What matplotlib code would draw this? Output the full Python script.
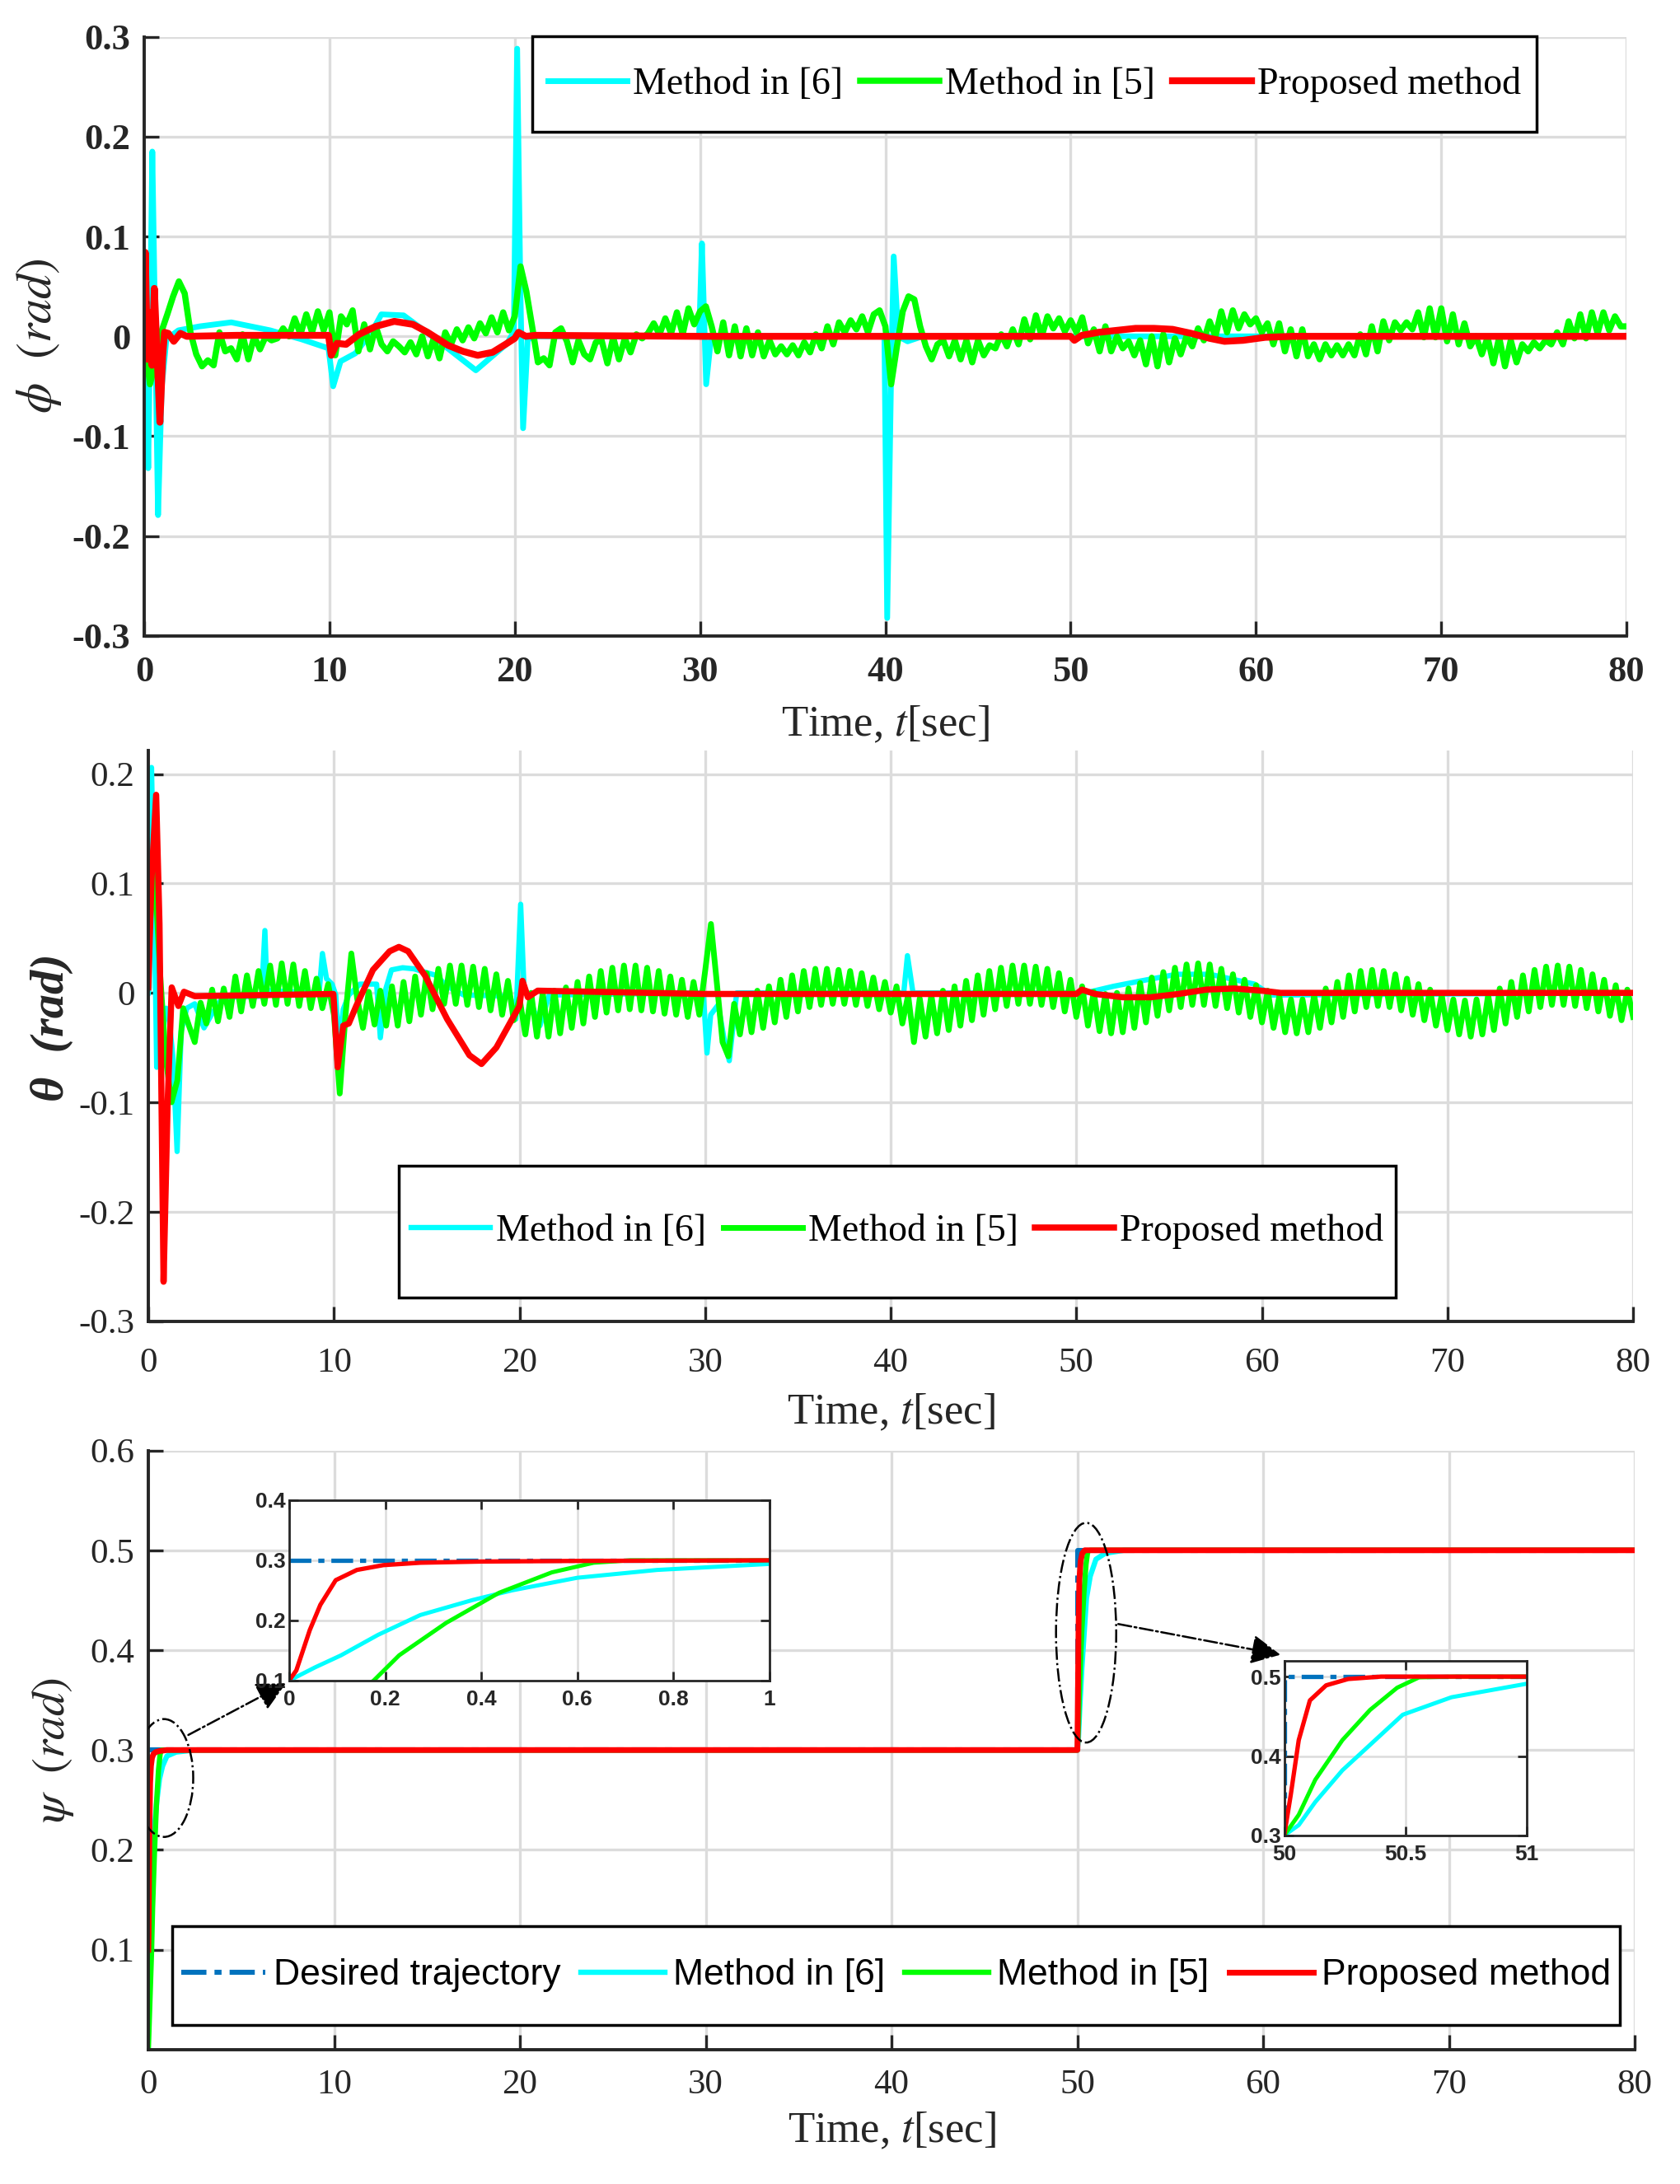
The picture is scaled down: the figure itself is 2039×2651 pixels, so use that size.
import numpy as np
import matplotlib
matplotlib.use('Agg')
import matplotlib.pyplot as plt
from matplotlib.patches import Ellipse, Rectangle

plt.rcParams['font.family'] = ['Liberation Serif', 'DejaVu Serif']
plt.rcParams['mathtext.fontset'] = 'stix'

# colours (MATLAB style)
c_m6 = '#00FFFF'
c_m5 = '#00FF00'
c_pr = '#FF0000'
c_des = '#0072BD'
c_grid = '#DCDCDC'
c_ax = '#262626'

# ---------------- data ----------------
x_ticks = [0, 10, 20, 30, 40, 50, 60, 70, 80]
x_ticklabels = ['0', '10', '20', '30', '40', '50', '60', '70', '80']
legend_labels = ['Method in [6]', 'Method in [5]', 'Proposed method']
legend_labels_psi = ['Desired trajectory', 'Method in [6]', 'Method in [5]', 'Proposed method']

# green curves (method in [5]) are read at every half period of their ripple
green_step = 0.3125
green_t = np.arange(257) * green_step

# phi
phi_yticks = [-0.3, -0.2, -0.1, 0, 0.1, 0.2, 0.3]
phi_yticklabels = ['-0.3', '-0.2', '-0.1', '0', '0.1', '0.2', '0.3']
phi_m6_t = [0, 0.1, 0.22, 0.33, 0.44, 0.6, 0.75, 0.95, 1.2, 1.85, 3, 4.7, 6.8, 8.5, 9.95, 10.2, 10.6, 11.4,
            12.3, 12.8, 14.0, 15.9, 17.9, 19.6, 19.95, 20.13, 20.3, 20.45, 20.7, 21.2, 29.95, 30.1, 30.33,
            30.6, 39.95, 40.1, 40.3, 40.45, 40.7, 41.2, 42, 80]
phi_m6 = [0.024, 0.000, -0.132, 0.020, 0.185, 0.000, -0.179, -0.050, -0.003, 0.006, 0.010, 0.014, 0.006,
          -0.003, -0.012, -0.050, -0.025, -0.017, 0.005, 0.022, 0.021, -0.005, -0.034, -0.007, 0.005, 0.288,
          0.050, -0.092, -0.003, 0.000, 0.000, 0.093, -0.048, 0.000, 0.000, -0.282, -0.050, 0.080, 0.000,
          -0.005, 0.000, 0.000]
phi_m5 = [
    0.000, -0.048, -0.025, 0.005, 0.022, 0.040, 0.055, 0.043, 0.004, -0.018, -0.030, -0.024, -0.029, 0.004, -0.015, -0.012,
    -0.023, 0.002, -0.023, 0.000, -0.013, 0.000, -0.004, -0.002, 0.008, 0.000, 0.018, 0.002, 0.022, 0.004, 0.025, 0.006,
    0.024, -0.019, 0.020, 0.012, 0.026, -0.015, 0.012, -0.013, 0.010, -0.008, -0.015, -0.005, -0.010, -0.016, -0.006, -0.018,
    0.000, -0.020, -0.002, -0.022, 0.004, -0.008, 0.007, -0.004, 0.009, -0.002, 0.013, 0.003, 0.019, 0.004, 0.024, 0.006,
    0.020, 0.070, 0.045, 0.010, -0.026, -0.022, -0.029, 0.004, 0.008, -0.005, -0.026, -0.004, -0.018, -0.023, -0.006, -0.004,
    -0.027, -0.001, -0.023, -0.002, -0.016, 0.002, -0.002, 0.003, 0.013, 0.002, 0.018, 0.003, 0.024, 0.002, 0.028, 0.012,
    0.025, 0.030, 0.010, -0.015, 0.014, -0.019, 0.010, -0.020, 0.008, -0.019, 0.004, -0.020, -0.004, -0.018, -0.010, -0.018,
    -0.009, -0.019, -0.006, -0.016, 0.002, -0.012, 0.010, -0.008, 0.014, 0.004, 0.016, 0.007, 0.020, 0.004, 0.022, 0.026,
    0.010, -0.048, -0.010, 0.025, 0.040, 0.037, 0.010, -0.010, -0.023, -0.008, -0.004, -0.020, -0.004, -0.023, -0.004, -0.026,
    -0.004, -0.019, -0.009, -0.012, 0.002, -0.010, 0.007, -0.008, 0.017, -0.003, 0.021, 0.000, 0.020, 0.008, 0.018, 0.005,
    0.016, 0.004, 0.019, -0.007, 0.007, -0.015, 0.010, -0.015, 0.000, -0.012, -0.005, -0.019, -0.004, -0.028, 0.000, -0.030,
    0.002, -0.026, -0.002, -0.018, 0.000, -0.010, 0.008, -0.004, 0.015, 0.000, 0.025, 0.004, 0.026, 0.008, 0.022, 0.012,
    0.018, 0.004, 0.013, -0.008, 0.013, -0.015, 0.007, -0.020, 0.007, -0.020, -0.008, -0.023, -0.008, -0.019, -0.009, -0.019,
    -0.008, -0.019, 0.002, -0.018, 0.010, -0.015, 0.015, -0.004, 0.014, 0.006, 0.014, 0.007, 0.024, -0.001, 0.028, -0.001,
    0.028, -0.005, 0.022, -0.008, 0.013, -0.010, 0.000, -0.018, -0.001, -0.027, -0.001, -0.030, -0.004, -0.026, -0.008, -0.015,
    -0.006, -0.012, -0.004, -0.008, 0.004, -0.008, 0.015, -0.002, 0.022, -0.002, 0.024, 0.003, 0.024, 0.006, 0.020, 0.010,
    0.010]
phi_pr_t = [0, 0.06, 0.18, 0.3, 0.42, 0.55, 0.68, 0.85, 1.0, 1.1, 1.3, 1.6, 1.95, 2.3, 5, 9.95, 10.1, 10.4, 10.9,
            11.6, 12.5, 13.5, 14.5, 15.3, 16.4, 17.2, 18.0, 18.8, 19.5, 20.0, 20.2, 20.6, 21.1, 30, 40, 50, 50.2,
            50.6, 51.5, 52.5, 53.5, 54.5, 55.5, 56.5, 57.5, 58.3, 59.3, 60.5, 62, 70, 80]
phi_pr = [0.015, 0.084, -0.023, 0.024, -0.029, 0.048, -0.010, -0.086, -0.020, 0.004, 0.003, -0.005, 0.003, 0.000,
          0.001, 0.001, -0.019, -0.007, -0.008, 0.002, 0.010, 0.015, 0.012, 0.004, -0.009, -0.015, -0.019, -0.016,
          -0.008, -0.002, 0.004, 0.000, 0.001, 0.000, 0.000, 0.000, -0.004, 0.001, 0.004, 0.006, 0.008, 0.008,
          0.007, 0.003, -0.002, -0.005, -0.004, -0.001, 0.000, 0.000, 0.000]

# theta
theta_yticks = [-0.3, -0.2, -0.1, 0, 0.1, 0.2]
theta_yticklabels = ['-0.3', '-0.2', '-0.1', '0', '0.1', '0.2']
theta_m6_t = [0, 0.05, 0.17, 0.3, 0.45, 0.7, 0.96, 1.1, 1.33, 1.55, 1.77, 2.07, 2.5, 3.0, 3.4, 4.0, 6.1, 6.28,
              6.4, 6.55, 9.2, 9.38, 9.6, 9.9, 10.1, 10.25, 10.5, 10.8, 11.4, 12.3, 12.5, 12.8, 13.1, 13.7, 14.3,
              15.5, 16.1, 17.0, 19.5, 19.8, 20.06, 20.24, 20.5, 21.1, 21.6, 29.9, 30.1, 30.3, 30.7, 31.0, 31.3,
              31.7, 40.7, 40.9, 41.2, 50.5, 52, 53.5, 55.4, 57.2, 59.6, 60.5, 80]
theta_m6 = [0.000, 0.005, 0.206, 0.100, -0.068, -0.040, -0.014, -0.020, -0.060, -0.145, -0.035, -0.014, -0.010,
            -0.032, -0.020, -0.004, -0.003, 0.057, 0.000, 0.002, 0.000, 0.036, 0.013, 0.008, -0.002, -0.050,
            -0.015, -0.002, 0.008, 0.008, -0.041, 0.004, 0.021, 0.023, 0.022, 0.016, 0.006, -0.002, -0.003,
            -0.024, 0.081, 0.005, -0.004, -0.030, -0.002, 0.000, -0.055, -0.020, -0.011, -0.040, -0.062, 0.000,
            0.000, 0.034, 0.000, 0.000, 0.006, 0.011, 0.017, 0.017, 0.008, -0.002, 0.000]
theta_m5 = [
    0.040, 0.120, 0.020, -0.060, -0.100, -0.080, -0.014, -0.030, -0.045, -0.009, -0.028, 0.003, -0.026, 0.004, -0.022, 0.015,
    -0.017, 0.016, -0.012, 0.020, -0.010, 0.025, -0.011, 0.027, -0.010, 0.026, -0.012, 0.020, -0.014, 0.013, -0.014, 0.008,
    -0.020, -0.092, -0.020, 0.036, -0.005, -0.032, 0.001, -0.029, 0.002, -0.030, 0.006, -0.030, 0.010, -0.026, 0.015, -0.020,
    0.018, -0.015, 0.022, -0.010, 0.025, -0.010, 0.025, -0.011, 0.024, -0.013, 0.022, -0.016, 0.017, -0.020, 0.011, -0.025,
    -0.005, -0.038, 0.000, -0.040, 0.000, -0.040, 0.002, -0.037, 0.005, -0.032, 0.010, -0.028, 0.015, -0.022, 0.020, -0.018,
    0.023, -0.016, 0.025, -0.015, 0.025, -0.016, 0.023, -0.017, 0.020, -0.019, 0.015, -0.020, 0.012, -0.022, 0.010, -0.020,
    0.020, 0.063, 0.010, -0.045, -0.058, -0.010, -0.038, -0.002, -0.036, 0.002, -0.032, 0.006, -0.027, 0.012, -0.022, 0.016,
    -0.017, 0.020, -0.013, 0.022, -0.011, 0.022, -0.010, 0.021, -0.010, 0.020, -0.011, 0.018, -0.012, 0.014, -0.015, 0.010,
    -0.018, 0.006, -0.028, -0.002, -0.045, -0.005, -0.040, -0.002, -0.037, 0.002, -0.034, 0.006, -0.030, 0.011, -0.025, 0.016,
    -0.020, 0.020, -0.015, 0.023, -0.012, 0.025, -0.010, 0.025, -0.010, 0.024, -0.011, 0.022, -0.013, 0.018, -0.017, 0.012,
    -0.022, 0.006, -0.030, 0.001, -0.035, -0.001, -0.037, 0.000, -0.036, 0.004, -0.032, 0.009, -0.027, 0.014, -0.021, 0.019,
    -0.016, 0.023, -0.013, 0.026, -0.011, 0.027, -0.011, 0.026, -0.012, 0.022, -0.014, 0.017, -0.018, 0.012, -0.022, 0.007,
    -0.027, 0.002, -0.032, -0.003, -0.036, -0.006, -0.037, -0.006, -0.036, -0.002, -0.032, 0.004, -0.027, 0.010, -0.022, 0.016,
    -0.017, 0.020, -0.013, 0.021, -0.012, 0.020, -0.013, 0.017, -0.016, 0.013, -0.020, 0.008, -0.025, 0.003, -0.030, -0.002,
    -0.034, -0.006, -0.038, -0.007, -0.040, -0.006, -0.038, -0.002, -0.034, 0.004, -0.028, 0.010, -0.022, 0.016, -0.017, 0.021,
    -0.013, 0.024, -0.011, 0.025, -0.011, 0.024, -0.012, 0.021, -0.014, 0.017, -0.017, 0.012, -0.021, 0.007, -0.025, 0.003,
    -0.022]
theta_pr_t = [0, 0.17, 0.42, 0.6, 0.82, 1.04, 1.26, 1.62, 1.92, 2.5, 9.97, 10.2, 10.5, 10.8, 11.2, 12.1, 13.0, 13.5,
              14.0, 14.9, 16.1, 17.3, 17.95, 18.75, 19.6, 20.0, 20.16, 20.45, 20.98, 30, 40, 50, 50.3, 51, 52.5,
              54, 55.5, 57, 58.5, 60, 61, 80]
theta_pr = [0.005, 0.104, 0.181, 0.063, -0.264, -0.100, 0.005, -0.012, 0.001, -0.003, -0.001, -0.068, -0.030,
            -0.028, -0.012, 0.021, 0.038, 0.042, 0.038, 0.016, -0.024, -0.057, -0.065, -0.050, -0.024, -0.012,
            0.011, -0.004, 0.002, -0.001, -0.001, -0.001, 0.003, -0.001, -0.004, -0.004, -0.001, 0.003, 0.004,
            0.002, 0.000, 0.000]

# psi
psi_yticks = [0.1, 0.2, 0.3, 0.4, 0.5, 0.6]
psi_yticklabels = ['0.1', '0.2', '0.3', '0.4', '0.5', '0.6']
psi_des_t = [0, 50, 50, 80]
psi_des = [0.3, 0.3, 0.5, 0.5]
psi_m6_t = [0, 0.054, 0.108, 0.185, 0.273, 0.382, 0.464, 0.6, 0.766, 1.0, 1.5, 2.5, 50, 50.06, 50.128, 50.24,
            50.354, 50.489, 50.69, 51.0, 51.5, 52.5, 80]
psi_m6 = [0.1, 0.122, 0.142, 0.176, 0.209, 0.234, 0.25, 0.271, 0.284, 0.294, 0.298, 0.3, 0.3, 0.313, 0.342,
          0.382, 0.414, 0.452, 0.474, 0.491, 0.497, 0.5, 0.5]
psi_m5_t = [0, 0.176, 0.229, 0.327, 0.437, 0.547, 0.634, 0.71, 50, 50.06, 50.128, 50.24, 50.354, 50.466, 50.556,
            50.7, 80]
psi_m5 = [0.0, 0.1, 0.142, 0.196, 0.246, 0.28, 0.296, 0.3, 0.3, 0.326, 0.37, 0.42, 0.458, 0.486, 0.499, 0.5, 0.5]
psi_pr_t = [0, 0.015, 0.043, 0.065, 0.097, 0.141, 0.196, 0.273, 0.4, 0.6, 1.0, 50, 50.027, 50.06, 50.106,
            50.173, 50.264, 50.4, 80]
psi_pr = [0.1, 0.117, 0.184, 0.226, 0.267, 0.284, 0.292, 0.296, 0.298, 0.299, 0.3, 0.3, 0.351, 0.42, 0.47,
          0.489, 0.497, 0.5, 0.5]

# zoom windows
zoom1_xticks = [0, 0.2, 0.4, 0.6, 0.8, 1]
zoom1_xticklabels = ['0', '0.2', '0.4', '0.6', '0.8', '1']
zoom1_yticks = [0.1, 0.2, 0.3, 0.4]
zoom1_yticklabels = ['0.1', '0.2', '0.3', '0.4']
zoom2_xticks = [50, 50.5, 51]
zoom2_xticklabels = ['50', '50.5', '51']
zoom2_yticks = [0.3, 0.4, 0.5]
zoom2_yticklabels = ['0.3', '0.4', '0.5']

dashdot = (0, (5, 1.6, 1.4, 1.6))

fig = plt.figure(figsize=(20.39, 26.51), dpi=100)


def style_main(ax, tick_size, bold, xpad):
    ax.set_axisbelow(True)
    ax.grid(True, color=c_grid, linewidth=2.4)
    ax.spines['top'].set_visible(False)
    ax.spines['right'].set_visible(False)
    for s in ['left', 'bottom']:
        ax.spines[s].set_linewidth(2.8)
        ax.spines[s].set_color(c_ax)
    ax.tick_params(direction='in', length=13, width=2.4, color=c_ax, labelcolor=c_ax)
    ax.tick_params(axis='x', pad=xpad)
    ax.tick_params(axis='y', pad=12)
    ax.set_xlim(0, 80)
    ax.set_xticks(x_ticks)
    w = 'bold' if bold else 'normal'
    ax.set_xticklabels(x_ticklabels, fontsize=tick_size, fontweight=w)


def set_labels(ax, ylab, ylab_xy, xlab_y, ylab_kw):
    ax.set_xlabel(r'Time, $t$[sec]', fontsize=38, color=c_ax)
    ax.xaxis.set_label_coords(0.5, xlab_y)
    ax.xaxis.label.set_verticalalignment('center')
    ax.set_ylabel(ylab, color=c_ax, **ylab_kw)
    ax.yaxis.set_label_coords(ylab_xy[0], ylab_xy[1])
    ax.yaxis.label.set_verticalalignment('center')


def boxed_legend(ax, handles, labels, box, **kw):
    # legend entries without frame, centred in a box drawn separately
    x0, y0, w, h = box
    frame = Rectangle((x0, y0), w, h, transform=fig.transFigure, facecolor='white',
                      edgecolor='black', linewidth=2.5, zorder=4.9, clip_on=False)
    ax.add_artist(frame)
    leg = ax.legend(handles, labels, loc='center', bbox_to_anchor=(x0 + w / 2, y0 + h / 2),
                    bbox_transform=fig.transFigure, frameon=False, borderpad=0, borderaxespad=0, **kw)
    leg.set_zorder(5)
    return leg


# ---------------- phi ----------------
ax1 = fig.add_axes([0.0858, 0.7088, 0.8824, 0.2744])
style_main(ax1, 32, True, 17)
l1, = ax1.plot(phi_m6_t, phi_m6, color=c_m6, lw=5.0)
l2, = ax1.plot(green_t, phi_m5, color=c_m5, lw=5.4)
l3, = ax1.plot(phi_pr_t, phi_pr, color=c_pr, lw=6.0)
ax1.set_ylim(-0.3, 0.3)
ax1.set_yticks(phi_yticks)
ax1.set_yticklabels(phi_yticklabels, fontsize=32, fontweight='bold')
set_labels(ax1, r'$\phi\ \ (rad)$', (-0.071, 0.5), -0.148, dict(fontsize=43))
boxed_legend(ax1, [l1, l2, l3], legend_labels, (0.3168, 0.9397, 0.5978, 0.0436),
             ncol=3, fontsize=33, handlelength=2.1, handletextpad=0.15, columnspacing=0.45)

# ---------------- theta ----------------
ax2 = fig.add_axes([0.0883, 0.3951, 0.8838, 0.2613])
style_main(ax2, 31, False, 23)
l1, = ax2.plot(theta_m6_t, theta_m6, color=c_m6, lw=4.6)
l2, = ax2.plot(green_t, theta_m5, color=c_m5, lw=5.0)
l3, = ax2.plot(theta_pr_t, theta_pr, color=c_pr, lw=5.4)
ax2.set_ylim(-0.3, 0.2216)
ax2.set_yticks(theta_yticks)
ax2.set_yticklabels(theta_yticklabels, fontsize=31)
set_labels(ax2, 'θ  (rad)', (-0.065, 0.515), -0.16,
           dict(fontsize=42, fontweight='bold', fontstyle='italic'))
boxed_legend(ax2, [l1, l2, l3], legend_labels, (0.2374, 0.4059, 0.5934, 0.0604),
             ncol=3, fontsize=33, handlelength=2.1, handletextpad=0.15, columnspacing=0.45)

# ---------------- psi ----------------
ax3 = fig.add_axes([0.0883, 0.0615, 0.8848, 0.2744])
style_main(ax3, 31, False, 17)
l0, = ax3.plot(psi_des_t, psi_des, color=c_des, lw=4.4, linestyle=dashdot)
l1, = ax3.plot(psi_m6_t, psi_m6, color=c_m6, lw=4.6)
l2, = ax3.plot(psi_m5_t, psi_m5, color=c_m5, lw=4.6)
l3, = ax3.plot(psi_pr_t, psi_pr, color=c_pr, lw=5.0)
ax3.set_ylim(0, 0.6)
ax3.set_yticks(psi_yticks)
ax3.set_yticklabels(psi_yticklabels, fontsize=31)
set_labels(ax3, r'$\psi\ \ (rad)$', (-0.064, 0.5), -0.136, dict(fontsize=41))
boxed_legend(ax3, [l0, l1, l2, l3], legend_labels_psi, (0.1025, 0.0728, 0.8615, 0.0453),
             ncol=4, prop={'family': 'Liberation Sans', 'size': 32}, handlelength=2.3,
             handletextpad=0.22, columnspacing=0.55)

# ellipses and arrows pointing to the zoom windows
ax3.add_patch(Ellipse((0.84, 0.272), 3.15, 0.118, fill=False, ls='-.', lw=1.8, color='k', zorder=6))
ax3.add_patch(Ellipse((50.47, 0.4175), 3.24, 0.22, fill=False, ls='-.', lw=1.8, color='k', zorder=6))
ax3.annotate('', xy=(7.52, 0.368), xytext=(2.04, 0.314),
             arrowprops=dict(arrowstyle='-|>', color='k', lw=1.8, linestyle='-.', mutation_scale=55), zorder=6)
ax3.annotate('', xy=(61.05, 0.395), xytext=(52.08, 0.4266),
             arrowprops=dict(arrowstyle='-|>', color='k', lw=1.8, linestyle='-.', mutation_scale=55), zorder=6)


def style_zoom(ax):
    ax.set_axisbelow(True)
    ax.grid(True, color=c_grid, linewidth=1.8)
    for s in ax.spines.values():
        s.set_linewidth(2.0)
        s.set_color(c_ax)
    ax.tick_params(direction='in', length=8, width=2.0, color=c_ax, labelcolor=c_ax,
                   top=True, right=True)
    ax.tick_params(axis='x', pad=8)
    ax.tick_params(axis='y', pad=3)


# zoom at t = 0
axz1 = fig.add_axes([0.1721, 0.2305, 0.2859, 0.0826])
style_zoom(axz1)
axz1.plot(psi_des_t, psi_des, color=c_des, lw=3.8, linestyle=dashdot)
axz1.plot(psi_m6_t, psi_m6, color=c_m6, lw=3.6)
axz1.plot(psi_m5_t, psi_m5, color=c_m5, lw=3.6)
axz1.plot(psi_pr_t, psi_pr, color=c_pr, lw=3.8)
axz1.set_xlim(0, 1)
axz1.set_ylim(0.1, 0.4)
axz1.set_xticks(zoom1_xticks)
axz1.set_xticklabels(zoom1_xticklabels, fontsize=19, fontweight='bold', family='Liberation Sans')
axz1.set_yticks(zoom1_yticks)
axz1.set_yticklabels(zoom1_yticklabels, fontsize=19, fontweight='bold', family='Liberation Sans')

# zoom at t = 50
axz2 = fig.add_axes([0.7644, 0.1596, 0.1443, 0.08])
style_zoom(axz2)
axz2.plot(psi_des_t, psi_des, color=c_des, lw=3.8, linestyle=dashdot)
axz2.plot(psi_m6_t, psi_m6, color=c_m6, lw=3.6)
axz2.plot(psi_m5_t, psi_m5, color=c_m5, lw=3.6)
axz2.plot(psi_pr_t, psi_pr, color=c_pr, lw=3.8)
axz2.set_xlim(50, 51)
axz2.set_ylim(0.3, 0.52)
axz2.set_xticks(zoom2_xticks)
axz2.set_xticklabels(zoom2_xticklabels, fontsize=19, fontweight='bold', family='Liberation Sans')
axz2.set_yticks(zoom2_yticks)
axz2.set_yticklabels(zoom2_yticklabels, fontsize=19, fontweight='bold', family='Liberation Sans')

plt.savefig('out.png', dpi=100)
